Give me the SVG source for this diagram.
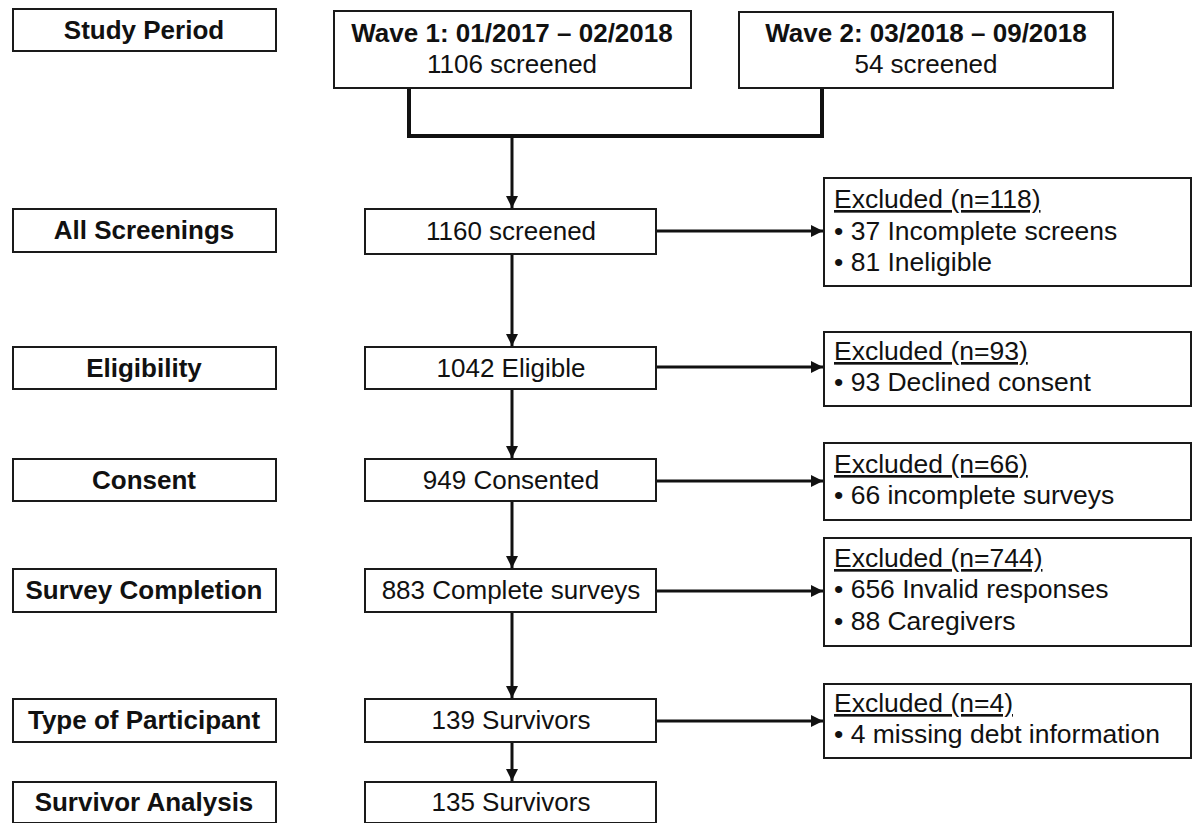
<svg xmlns="http://www.w3.org/2000/svg" width="1193" height="823" viewBox="0 0 1193 823">
<style>
.box{fill:#fff;stroke:#1a1a1a;stroke-width:2}
.lbl{font-family:"Liberation Sans",Arial,sans-serif;font-size:26px;font-weight:bold;fill:#111;text-anchor:middle}
.txt{font-family:"Liberation Sans",Arial,sans-serif;font-size:26px;fill:#111;text-anchor:middle}
.ex{font-family:"Liberation Sans",Arial,sans-serif;font-size:26.5px;fill:#111}
.u{text-decoration:underline}
.ln{fill:none;stroke:#111;stroke-width:3}
.br{fill:none;stroke:#111;stroke-width:4}
</style>
<defs>
<marker id="ah" markerWidth="12" markerHeight="12" refX="10" refY="5" orient="auto" markerUnits="userSpaceOnUse" viewBox="0 0 10 10">
<path d="M0,0 L10,5 L0,10 z" fill="#111"/>
</marker>
</defs>
<rect width="1193" height="823" fill="#fff"/>
<g id="connectors">
<path class="br" d="M409,88 V136 H822 V88"/>
<line class="ln" x1="512" y1="136" x2="512" y2="208" marker-end="url(#ah)"/>
<line class="ln" x1="512" y1="254" x2="512" y2="346" marker-end="url(#ah)"/>
<line class="ln" x1="512" y1="389" x2="512" y2="458" marker-end="url(#ah)"/>
<line class="ln" x1="512" y1="501" x2="512" y2="568" marker-end="url(#ah)"/>
<line class="ln" x1="512" y1="612" x2="512" y2="698" marker-end="url(#ah)"/>
<line class="ln" x1="512" y1="742" x2="512" y2="781" marker-end="url(#ah)"/>
<line class="ln" x1="656" y1="231" x2="823" y2="231" marker-end="url(#ah)"/>
<line class="ln" x1="656" y1="367" x2="823" y2="367" marker-end="url(#ah)"/>
<line class="ln" x1="656" y1="481" x2="823" y2="481" marker-end="url(#ah)"/>
<line class="ln" x1="656" y1="591" x2="823" y2="591" marker-end="url(#ah)"/>
<line class="ln" x1="656" y1="721" x2="823" y2="721" marker-end="url(#ah)"/>
</g>
<g id="lbl-study"><rect class="box" x="13" y="9" width="263" height="42"/><text class="lbl" x="144" y="39">Study Period</text></g>
<g id="lbl-screen"><rect class="box" x="13" y="209" width="263" height="43"/><text class="lbl" x="144" y="239">All Screenings</text></g>
<g id="lbl-elig"><rect class="box" x="13" y="347" width="263" height="42"/><text class="lbl" x="144" y="377">Eligibility</text></g>
<g id="lbl-consent"><rect class="box" x="13" y="459" width="263" height="42"/><text class="lbl" x="144" y="489">Consent</text></g>
<g id="lbl-survey"><rect class="box" x="13" y="569" width="263" height="43"/><text class="lbl" x="144" y="599">Survey Completion</text></g>
<g id="lbl-type"><rect class="box" x="13" y="699" width="263" height="43"/><text class="lbl" x="144" y="729">Type of Participant</text></g>
<g id="lbl-analysis"><rect class="box" x="13" y="782" width="263" height="41"/><text class="lbl" x="144" y="811">Survivor Analysis</text></g>
<g id="wave1"><rect class="box" x="334" y="11" width="357" height="77"/><text class="lbl" x="512" y="42">Wave 1: 01/2017 – 02/2018</text><text class="txt" x="512" y="73">1106 screened</text></g>
<g id="wave2"><rect class="box" x="739" y="12" width="374" height="76"/><text class="lbl" x="926" y="42">Wave 2: 03/2018 – 09/2018</text><text class="txt" x="926" y="73">54 screened</text></g>
<g id="n1160"><rect class="box" x="365" y="209" width="291" height="45"/><text class="txt" x="511" y="240">1160 screened</text></g>
<g id="n1042"><rect class="box" x="365" y="347" width="291" height="42"/><text class="txt" x="511" y="377">1042 Eligible</text></g>
<g id="n949"><rect class="box" x="365" y="459" width="291" height="42"/><text class="txt" x="511" y="489">949 Consented</text></g>
<g id="n883"><rect class="box" x="365" y="569" width="291" height="43"/><text class="txt" x="511" y="599">883 Complete surveys</text></g>
<g id="n139"><rect class="box" x="365" y="699" width="291" height="43"/><text class="txt" x="511" y="729">139 Survivors</text></g>
<g id="n135"><rect class="box" x="365" y="782" width="291" height="41"/><text class="txt" x="511" y="811">135 Survivors</text></g>
<g id="ex118"><rect class="box" x="824" y="178" width="367" height="108"/><text class="ex" x="834" y="208"><tspan class="u">Excluded (n=118)</tspan></text><text class="ex" x="834" y="240">• 37 Incomplete screens</text><text class="ex" x="834" y="271">• 81 Ineligible</text></g>
<g id="ex93"><rect class="box" x="824" y="332" width="367" height="74"/><text class="ex" x="834" y="360"><tspan class="u">Excluded (n=93)</tspan></text><text class="ex" x="834" y="391">• 93 Declined consent</text></g>
<g id="ex66"><rect class="box" x="824" y="443" width="367" height="77"/><text class="ex" x="834" y="473"><tspan class="u">Excluded (n=66)</tspan></text><text class="ex" x="834" y="504">• 66 incomplete surveys</text></g>
<g id="ex744"><rect class="box" x="824" y="538" width="367" height="108"/><text class="ex" x="834" y="567"><tspan class="u">Excluded (n=744)</tspan></text><text class="ex" x="834" y="598">• 656 Invalid responses</text><text class="ex" x="834" y="630">• 88 Caregivers</text></g>
<g id="ex4"><rect class="box" x="824" y="684" width="367" height="74"/><text class="ex" x="834" y="712"><tspan class="u">Excluded (n=4)</tspan></text><text class="ex" x="834" y="743">• 4 missing debt information</text></g>
</svg>
